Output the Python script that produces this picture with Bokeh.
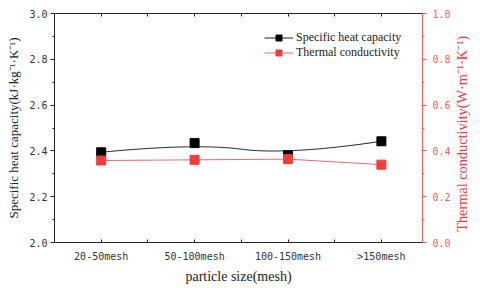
import numpy as np
from bokeh.plotting import figure
from bokeh.models import (Range1d, LinearAxis, FixedTicker, Legend, LegendItem,
                          PrintfTickFormatter)
from bokeh.embed import file_html
from bokeh.resources import INLINE

categories = ["20-50mesh", "50-100mesh", "100-150mesh", ">150mesh"]
heat_capacity = [2.394, 2.434, 2.381, 2.442]
thermal_conductivity = [0.358, 0.361, 0.364, 0.340]
left_ticks = [2.0, 2.2, 2.4, 2.6, 2.8, 3.0]
left_minor = [2.1, 2.3, 2.5, 2.7, 2.9]
right_ticks = [0.0, 0.2, 0.4, 0.6, 0.8, 1.0]
right_minor = [0.1, 0.3, 0.5, 0.7, 0.9]
right_title = "Thermal conductivity(W·m⁻¹·K⁻¹)"

xs = list(range(len(categories)))
x_minor = [i + 0.5 for i in xs[:-1]]


def quad_bspline(px, py, n=60):
    """Clamped quadratic B-spline using the data points as control points."""
    P = np.column_stack([px, py]).astype(float)
    k = len(P)
    starts = [P[0]] + [(P[i] + P[i + 1]) / 2 for i in range(1, k - 2)]
    ends = [(P[i] + P[i + 1]) / 2 for i in range(1, k - 2)] + [P[-1]]
    ctrls = [P[i] for i in range(1, k - 1)]
    t = np.linspace(0, 1, n)[:, None]
    pts = []
    for a, c, b in zip(starts, ctrls, ends):
        pts.append((1 - t) ** 2 * a + 2 * (1 - t) * t * c + t ** 2 * b)
    pts = np.vstack(pts)
    return pts[:, 0], pts[:, 1]


RED = "#f03c3c"
RED_AX = "#ff5a5a"
SERIF = "Liberation Serif"
MONO = "DejaVu Sans Mono"
DARK = "#222222"

FW, FH = 369, 229
p = figure(width=480, height=288, x_range=Range1d(-0.5, 3.44), y_range=Range1d(2.0, 3.0),
           output_backend="svg", toolbar_location=None,
           min_border_left=54, min_border_right=57, min_border_top=13, min_border_bottom=46,
           x_axis_type=None, y_axis_type=None)
p.extra_y_ranges = {"tc": Range1d(0.0, 1.0)}
p.xgrid.visible = False
p.ygrid.visible = False
p.outline_line_color = None
p.background_fill_color = "white"
p.border_fill_color = "white"

# bottom axis
xb = LinearAxis(ticker=FixedTicker(ticks=xs, minor_ticks=x_minor),
                major_label_overrides={i: c for i, c in zip(xs, categories)})
xb.axis_label = "particle size(mesh)"
xb.major_tick_in = 3
xb.major_tick_out = 0
xb.minor_tick_in = 3
xb.minor_tick_out = 0
xb.axis_line_color = DARK
xb.major_tick_line_color = DARK
xb.minor_tick_line_color = DARK
xb.major_label_text_font = MONO
xb.major_label_text_font_size = "10px"
xb.major_label_text_color = "#333333"
xb.major_label_standoff = 8
xb.axis_label_text_font = SERIF
xb.axis_label_text_font_size = "14px"
xb.axis_label_text_font_style = "normal"
xb.axis_label_text_color = DARK
xb.axis_label_standoff = 4
p.add_layout(xb, "below")

# top axis (mirror, no labels)
xt = LinearAxis(ticker=FixedTicker(ticks=xs, minor_ticks=x_minor))
xt.major_tick_in = 3
xt.major_tick_out = 0
xt.minor_tick_in = 3
xt.minor_tick_out = 0
xt.axis_line_color = DARK
xt.major_tick_line_color = DARK
xt.minor_tick_line_color = DARK
xt.major_label_text_font_size = "0px"
xt.major_label_text_alpha = 0
xt.major_label_standoff = 0
p.add_layout(xt, "above")

# left axis
yl = LinearAxis(ticker=FixedTicker(ticks=left_ticks, minor_ticks=left_minor),
                formatter=PrintfTickFormatter(format="%.1f"))
yl.axis_label = "Specific heat capacity(kJ·kg⁻¹·K⁻¹)"
yl.major_tick_out = 4
yl.major_tick_in = 0
yl.minor_tick_out = 2
yl.minor_tick_in = 0
yl.axis_line_color = DARK
yl.major_tick_line_color = DARK
yl.minor_tick_line_color = DARK
yl.major_label_text_font = MONO
yl.major_label_text_font_size = "10px"
yl.major_label_text_color = "#333333"
yl.major_label_standoff = 3
yl.axis_label_text_font = SERIF
yl.axis_label_text_font_size = "13px"
yl.axis_label_text_font_style = "normal"
yl.axis_label_text_color = DARK
yl.axis_label_standoff = 5
p.add_layout(yl, "left")

# right axis, title reading bottom-to-top as in the reference
yr = LinearAxis(y_range_name="tc", ticker=FixedTicker(ticks=right_ticks, minor_ticks=right_minor),
                formatter=PrintfTickFormatter(format="%.1f"))
yr.major_tick_out = 4
yr.major_tick_in = 0
yr.minor_tick_out = 2
yr.minor_tick_in = 0
yr.axis_line_color = RED_AX
yr.major_tick_line_color = RED_AX
yr.minor_tick_line_color = RED_AX
yr.major_label_text_font = MONO
yr.major_label_text_font_size = "10px"
yr.major_label_text_color = RED_AX
yr.major_label_standoff = 6
yr.axis_label = "\u00a0\u00a0\u00a0" + right_title
yr.axis_label_orientation = np.pi / 2
yr.axis_label_align = "start"
yr.axis_label_text_font = SERIF
yr.axis_label_text_font_size = "14.3px"
yr.axis_label_text_font_style = "normal"
yr.axis_label_text_color = RED
yr.axis_label_standoff = 8
p.add_layout(yr, "right")

# series
cx, cy = quad_bspline(xs, heat_capacity)
l1 = p.line(cx, cy, line_color=DARK, line_width=1)
s1 = p.scatter(xs, heat_capacity, marker="square", size=9, fill_color="black", line_color="black")
l2 = p.line(xs, thermal_conductivity, line_color="#f26a6a", line_width=1, y_range_name="tc")
s2 = p.scatter(xs, thermal_conductivity, marker="square", size=9, fill_color=RED, line_color=RED,
               y_range_name="tc")

legend = Legend(items=[LegendItem(label="Specific heat capacity", renderers=[l1, s1]),
                       LegendItem(label="Thermal conductivity", renderers=[l2, s2])],
                location=(210, FH - 47))
legend.padding = 0
legend.margin = 0
legend.spacing = 0
legend.glyph_width = 29
legend.glyph_height = 15
legend.label_height = 15
legend.label_standoff = 3
legend.label_text_font = SERIF
legend.label_text_font_size = "12px"
legend.label_text_color = DARK
legend.border_line_color = None
legend.background_fill_alpha = 0
p.add_layout(legend)

open("out.html", "w").write(file_html(p, INLINE))
